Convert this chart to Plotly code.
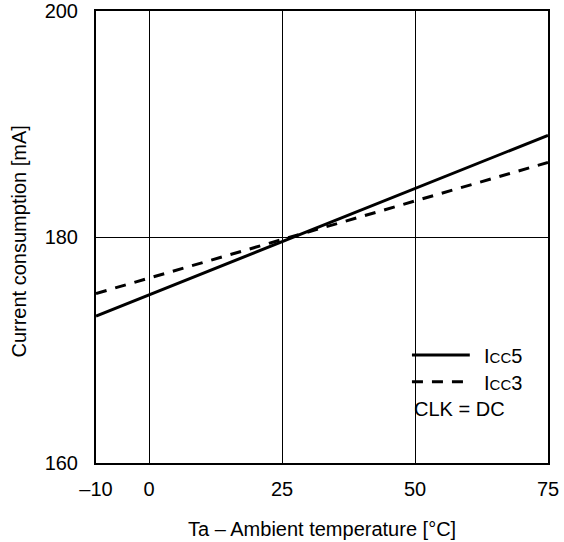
import plotly.graph_objects as go

temps = [-10, 75]
icc5 = [173.0, 189.0]
icc3 = [175.0, 186.6]
x_ticks = [-10, 0, 25, 50, 75]
x_ticktext = ["\u201310", "0", "25", "50", "75"]
y_ticks = [160, 180, 200]

FONT = "Liberation Sans, Arial, sans-serif"
FS = 20
DASH = "11px,9px"

fig = go.Figure()
fig.add_trace(go.Scatter(x=temps, y=icc5, mode="lines",
                         line=dict(color="black", width=3), showlegend=False))
fig.add_trace(go.Scatter(x=temps, y=icc3, mode="lines",
                         line=dict(color="black", width=3, dash=DASH), showlegend=False))

# legend box (white background to break gridline)
fig.add_shape(type="rect", xref="paper", yref="paper", x0=0.673, x1=0.99, y0=0.073, y1=0.279,
              fillcolor="white", line=dict(width=0), layer="below")
fig.add_shape(type="line", xref="paper", yref="paper", x0=0.699, x1=0.827, y0=0.239, y1=0.239,
              line=dict(color="black", width=3))
fig.add_shape(type="line", xref="paper", yref="paper", x0=0.699, x1=0.827, y0=0.180, y1=0.180,
              line=dict(color="black", width=3, dash=DASH))
small = "<span style='font-size:15px'>CC</span>"
fig.add_annotation(xref="paper", yref="paper", x=0.855, y=0.237, xanchor="left", yanchor="middle",
                   text="I" + small + "5", showarrow=False, font=dict(size=FS, color="black", family=FONT))
fig.add_annotation(xref="paper", yref="paper", x=0.855, y=0.178, xanchor="left", yanchor="middle",
                   text="I" + small + "3", showarrow=False, font=dict(size=FS, color="black", family=FONT))
fig.add_annotation(xref="paper", yref="paper", x=0.699, y=0.119, xanchor="left", yanchor="middle",
                   text="CLK = DC", showarrow=False, font=dict(size=FS, color="black", family=FONT))

# axis titles
fig.add_annotation(xref="paper", yref="paper", x=0.5, y=0, yshift=-66, xanchor="center", yanchor="middle",
                   text="Ta \u2013 Ambient temperature [\u00b0C]", showarrow=False,
                   font=dict(size=FS, color="black", family=FONT))
fig.add_annotation(xref="paper", yref="paper", x=0, y=0.49, xshift=-77, xanchor="center", yanchor="middle",
                   text="Current consumption [mA]", textangle=-90, showarrow=False,
                   font=dict(size=FS, color="black", family=FONT))

fig.update_layout(
    width=564, height=542,
    margin=dict(l=96, r=16, t=11, b=79),
    paper_bgcolor="white", plot_bgcolor="white",
    font=dict(family=FONT, size=FS, color="black"),
    showlegend=False,
)
fig.update_xaxes(range=[-10, 75], tickvals=x_ticks, ticktext=x_ticktext,
                 showgrid=True, gridcolor="black", gridwidth=1,
                 showline=True, linecolor="black", linewidth=2, mirror=True,
                 ticks="", zeroline=False, ticklabelstandoff=7, automargin=False)
fig.update_yaxes(range=[160, 200], tickvals=y_ticks,
                 showgrid=True, gridcolor="black", gridwidth=1,
                 showline=True, linecolor="black", linewidth=2, mirror=True,
                 ticks="", zeroline=False, ticklabelstandoff=12, automargin=False)

fig.write_html("out.html", config={"displayModeBar": False},
               post_script="document.body.style.margin='0px';")
